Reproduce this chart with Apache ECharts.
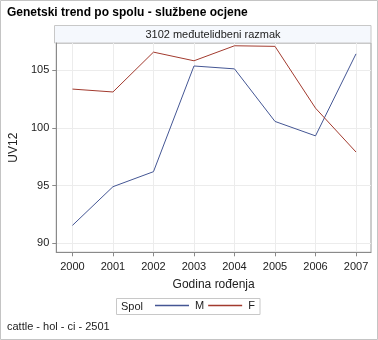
<!DOCTYPE html>
<html>
<head>
<meta charset="utf-8">
<script src="https://cdn.jsdelivr.net/npm/echarts@6/dist/echarts.min.js"></script>
<style>html,body{margin:0;padding:0;background:#fff}#c{width:378px;height:340px}</style>
</head>
<body>
<div id="c"></div>
<script>
var years = [2000, 2001, 2002, 2003, 2004, 2005, 2006, 2007];
var valuesM = [91.55, 94.9, 96.2, 105.35, 105.1, 100.55, 99.3, 106.4];
var valuesF = [103.35, 103.1, 106.55, 105.8, 107.1, 107.05, 101.7, 97.9];
var yTicks = [90, 95, 100, 105];
var titleText = 'Genetski trend po spolu - službene ocjene';
var headerText = '3102 međutelidbeni razmak';
var footText = 'cattle - hol - ci - 2501';

var font = '"Liberation Sans", Arial, sans-serif';
var chart = echarts.init(document.getElementById('c'), null, {renderer: 'canvas'});
function pairs(v) { return years.map(function (y, i) { return [y, v[i]]; }); }

chart.setOption({
  animation: false,
  textStyle: {fontFamily: font},
  grid: {left: 54.5, top: 43, width: 316.5, height: 209.3, show: true, borderColor: '#9a9a9a', borderWidth: 1, backgroundColor: 'transparent'},
  xAxis: {
    type: 'value', min: 1999.6, max: 2007.37,
    name: 'Godina rođenja', nameLocation: 'middle', nameGap: 26,
    nameTextStyle: {fontFamily: font, fontSize: 12, color: '#222'},
    axisLine: {show: true, lineStyle: {color: '#8a8a8a'}},
    axisTick: {show: true, length: 4, lineStyle: {color: '#8a8a8a'}, customValues: years},
    axisLabel: {customValues: years, fontFamily: font, fontSize: 11, color: '#222', margin: 9, formatter: function (v) { return String(v); }},
    splitLine: {show: true, lineStyle: {color: '#ececec', width: 1}}
  },
  yAxis: {
    type: 'value', min: 89.22, max: 107.34,
    name: 'UV12', nameLocation: 'middle', nameGap: 29,
    nameTextStyle: {fontFamily: font, fontSize: 12, color: '#222'},
    axisLine: {show: true, lineStyle: {color: '#8a8a8a'}},
    axisTick: {show: true, length: 4, lineStyle: {color: '#8a8a8a'}, customValues: yTicks},
    axisLabel: {customValues: yTicks, fontFamily: font, fontSize: 11, color: '#222', margin: 7},
    splitLine: {show: true, lineStyle: {color: '#ececec', width: 1}}
  },
  legend: {
    left: 155, top: 300, padding: 0, itemWidth: 34, itemHeight: 1.5, itemGap: 4,
    icon: 'rect',
    textStyle: {fontFamily: font, fontSize: 11, color: '#222', padding: [0, 0, 0, 1]},
    data: ['M', 'F']
  },
  series: [
    {name: 'M', type: 'line', data: pairs(valuesM), showSymbol: false, symbol: 'none', lineStyle: {color: '#445694', width: 1}, itemStyle: {color: '#445694'}},
    {name: 'F', type: 'line', data: pairs(valuesF), showSymbol: false, symbol: 'none', lineStyle: {color: '#a23a2e', width: 1}, itemStyle: {color: '#a23a2e'}}
  ],
  graphic: [
    {type: 'rect', silent: true, shape: {x: 0.5, y: 0.5, width: 377, height: 339}, style: {fill: 'none', stroke: '#c4c4c4', lineWidth: 1}},
    {type: 'text', silent: true, style: {x: 7, y: 13, text: titleText, font: 'bold 12px ' + font, fill: '#000', textVerticalAlign: 'middle'}},
    {type: 'rect', silent: true, shape: {x: 54.5, y: 25.5, width: 316.5, height: 17.5}, style: {fill: '#f5f8fd', stroke: '#c8c8c8', lineWidth: 1}},
    {type: 'text', silent: true, style: {x: 213, y: 34.5, text: headerText, font: '11px ' + font, fill: '#222', textAlign: 'center', textVerticalAlign: 'middle'}},
    {type: 'rect', silent: true, shape: {x: 116.5, y: 298.5, width: 143.5, height: 16}, style: {fill: 'none', stroke: '#c8c8c8', lineWidth: 1}},
    {type: 'text', silent: true, style: {x: 121, y: 306.5, text: 'Spol', font: '11px ' + font, fill: '#222', textVerticalAlign: 'middle'}},
    {type: 'text', silent: true, style: {x: 7, y: 327, text: footText, font: '11px ' + font, fill: '#222', textVerticalAlign: 'middle'}}
  ]
});
</script>
</body>
</html>
